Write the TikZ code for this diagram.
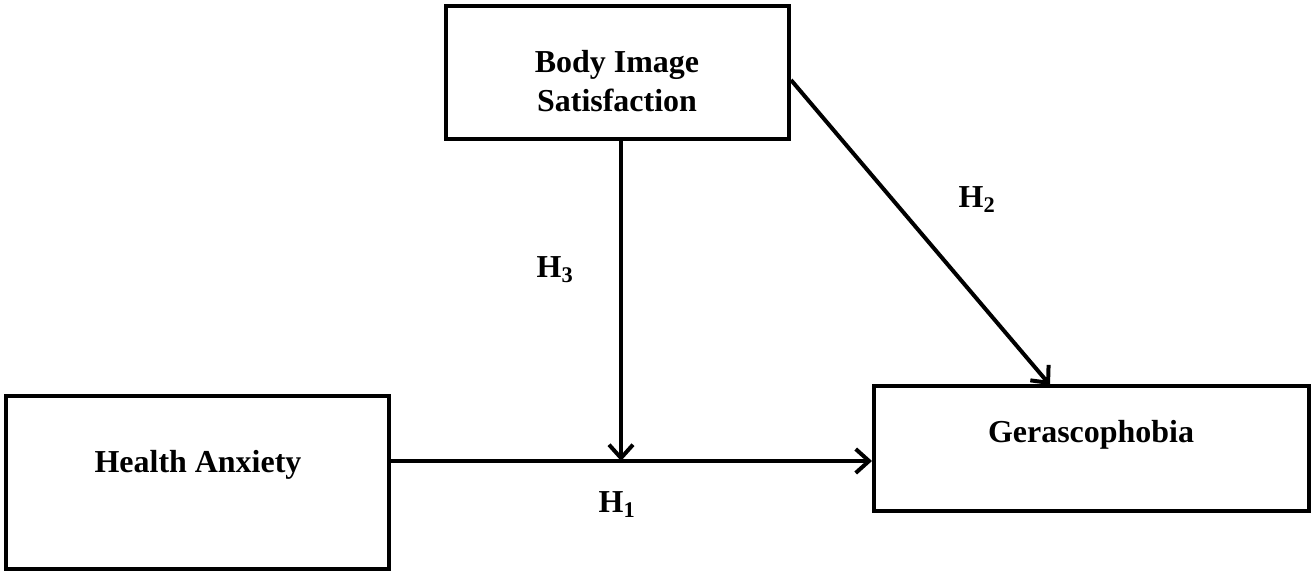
\documentclass[tikz,border=0pt]{standalone}
\usepackage{fontspec}
\setmainfont{Liberation Serif}
\usetikzlibrary{arrows.meta}
\begin{document}
\begin{tikzpicture}[x=0.0264cm,y=-0.0264cm,
  box/.style={draw,line width=3pt,inner sep=0pt},
  lbl/.style={font=\fontsize{24}{29}\selectfont\bfseries,align=center},
  conn/.style={line width=3pt,-{Straight Barb[length=10pt,width=18pt,line width=3pt]}}]
\useasboundingbox (0,0) rectangle (1316,576);
\node[box,minimum width=343pt*0.75,minimum height=133pt*0.75] (bis) at (617.5,72.5) {};
\path (bis.north west) ++(0,0);
\draw[line width=3pt] (446,6) rectangle (789,139);
\draw[line width=3pt] (6,396) rectangle (389,569);
\draw[line width=3pt] (874,386) rectangle (1309,511);
\node[lbl] (bist) at (617,81) {Body Image\\Satisfaction};
\node[lbl] (hat) at (198,465) {Health Anxiety};
\node[lbl] (gt) at (1091,435) {Gerascophobia};
\coordinate (bisb) at (621,141);
\coordinate (bisr) at (791,80);
\coordinate (has) at (391,461);
\coordinate (gl) at (872,461);
\coordinate (gt2) at (1050,385);
\coordinate (mid) at (621,461);
\draw[conn] (has) -- (gl);
\draw[conn] (bisb) -- (mid);
\draw[conn] (bisr) -- (gt2);
\node[lbl] (h3) at (555,270) {H\textsubscript{3}};
\node[lbl] (h2) at (977,200) {H\textsubscript{2}};
\node[lbl] (h1) at (617,505) {H\textsubscript{1}};
\end{tikzpicture}
\end{document}
